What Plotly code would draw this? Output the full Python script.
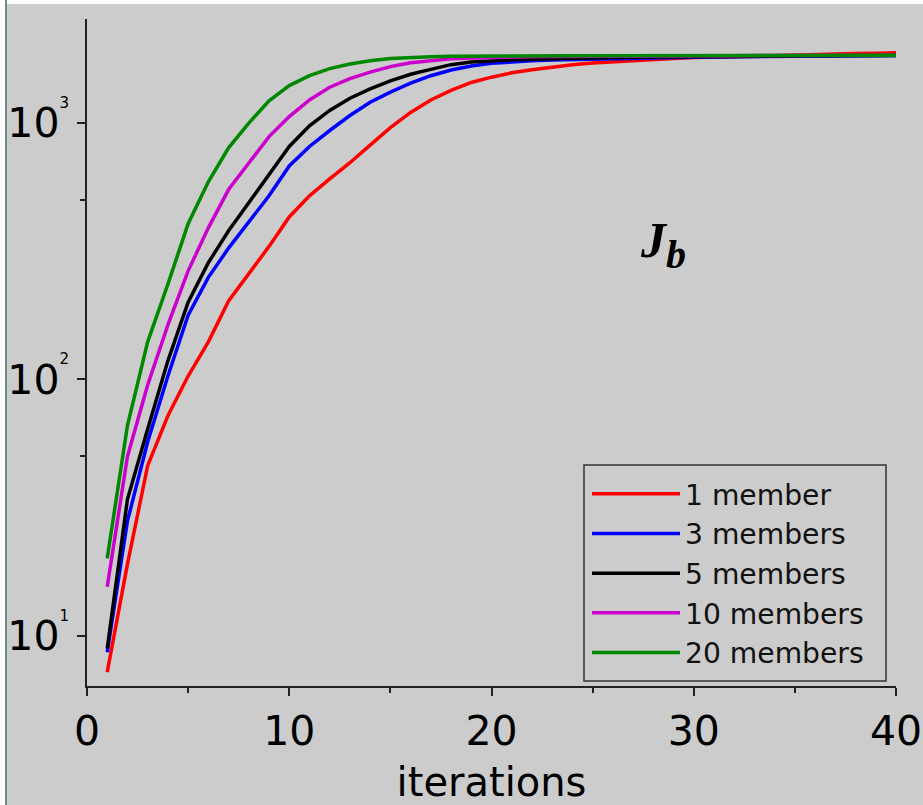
import plotly.graph_objects as go

iterations = list(range(1, 41))

red_1 = [7.2, 19, 46, 72, 103, 140, 202, 259, 330, 430,
         520, 605, 700, 820, 960, 1100, 1230, 1340, 1440, 1510,
         1570, 1615, 1655, 1690, 1715, 1735, 1755, 1770, 1785, 1800,
         1810, 1820, 1830, 1840, 1848, 1855, 1862, 1868, 1874, 1880]
blue_3 = [8.6, 28, 57, 103, 178, 250, 325, 410, 520, 680,
          810, 935, 1070, 1205, 1320, 1430, 1530, 1610, 1670, 1710,
          1735, 1750, 1760, 1768, 1775, 1782, 1788, 1794, 1800, 1805,
          1810, 1814, 1818, 1821, 1824, 1827, 1829, 1831, 1833, 1835]
black_5 = [8.9, 34, 64, 118, 200, 285, 380, 490, 630, 810,
           975, 1120, 1250, 1360, 1460, 1550, 1620, 1690, 1730, 1750,
           1765, 1775, 1785, 1792, 1798, 1803, 1807, 1811, 1814, 1817,
           1820, 1822, 1824, 1826, 1828, 1830, 1831, 1833, 1834, 1835]
magenta_10 = [15.5, 50, 95, 163, 265, 390, 550, 700, 885, 1060,
              1230, 1380, 1490, 1580, 1660, 1720, 1755, 1780, 1795, 1805,
              1810, 1814, 1817, 1820, 1822, 1824, 1826, 1828, 1829, 1830,
              1831, 1832, 1833, 1834, 1835, 1836, 1836, 1837, 1837, 1838]
green_20 = [20, 66, 140, 235, 405, 590, 800, 1000, 1220, 1400,
            1530, 1630, 1700, 1750, 1785, 1805, 1815, 1822, 1826, 1828,
            1829, 1830, 1831, 1832, 1832, 1833, 1833, 1834, 1834, 1835,
            1835, 1836, 1836, 1836, 1837, 1837, 1837, 1838, 1838, 1838]

series_names = ["1 member", "3 members", "5 members", "10 members", "20 members"]
series_values = [red_1, blue_3, black_5, magenta_10, green_20]
series_colors = ["#ff0000", "#0000ff", "#000000", "#cc00cc", "#008800"]

x_tickvals = [0, 10, 20, 30, 40]
x_ticktext = ["0", "10", "20", "30", "40"]
x_minor_vals = [5, 15, 25, 35]
y_tickvals = [10, 100, 1000]
y_exponents = ["1", "2", "3"]
y_minor_vals = [50, 500]

BG = "#cccccc"
AX = "#222222"
FONT = "DejaVu Sans"
PW, PH, L, T = 809, 667, 87, 19


def px(x):
    return (x - L) / PW


def py(y):
    return (T + PH - y) / PH


y_ticktext = ["10<sup><sup><span style='font-size:15px'>%s</span></sup></sup>" % e
              for e in y_exponents]

fig = go.Figure()
for name, vals, col in zip(series_names, series_values, series_colors):
    fig.add_trace(go.Scatter(x=iterations, y=vals, mode="lines", name=name,
                             line=dict(color=col, width=3.5)))

fig.update_layout(
    width=923, height=805,
    margin=dict(l=87, r=27, t=19, b=119, autoexpand=False),
    paper_bgcolor=BG, plot_bgcolor=BG,
    font=dict(family=FONT, color="#000000"),
    showlegend=True,
    legend=dict(x=px(587), y=py(678), xanchor="left", yanchor="bottom",
                bgcolor="rgba(0,0,0,0)", borderwidth=0,
                font=dict(family=FONT, size=28.2, color="#111111"),
                itemwidth=88),
    xaxis=dict(range=[0, 40], showgrid=False, zeroline=False, automargin=False,
               showline=True, linecolor=AX, linewidth=1.5,
               ticks="outside", ticklen=8, tickwidth=1.5, tickcolor=AX,
               tickvals=x_tickvals, ticktext=x_ticktext,
               tickfont=dict(family=FONT, size=41, color="#000000"),
               minor=dict(tickvals=x_minor_vals, ticks="outside", ticklen=5,
                          tickwidth=1.5, tickcolor=AX),
               title=dict(text="iterations", standoff=30,
                          font=dict(family=FONT, size=40, color="#000000"))),
    yaxis=dict(type="log", range=[0.803, 3.406], showgrid=False, zeroline=False,
               automargin=False,
               showline=True, linecolor=AX, linewidth=1.5,
               ticks="outside", ticklen=8, tickwidth=1.5, tickcolor=AX,
               tickvals=y_tickvals, ticktext=y_ticktext,
               tickfont=dict(family=FONT, size=41, color="#000000"),
               minor=dict(tickvals=y_minor_vals, ticks="outside", ticklen=5,
                          tickwidth=1.5, tickcolor=AX)),
    annotations=[dict(xref="paper", yref="paper", x=px(638), y=py(244),
                      xanchor="left", yanchor="middle", showarrow=False,
                      text="<b><i>J<sub><span style='font-size:40px'>b</span></sub></i></b>",
                      font=dict(family="Liberation Serif", size=50, color="#000000"))],
    shapes=[
        dict(type="rect", xref="paper", yref="paper", x0=px(584), x1=px(886),
             y0=py(681), y1=py(465), fillcolor="rgba(0,0,0,0)",
             line=dict(color="#333333", width=1.5), layer="above"),
        dict(type="rect", xref="paper", yref="paper", x0=px(-10), x1=px(5),
             y0=py(900), y1=py(-10), fillcolor="#ffffff", line=dict(width=0), layer="above"),
        dict(type="rect", xref="paper", yref="paper", x0=px(-10), x1=px(1000),
             y0=py(4), y1=py(-10), fillcolor="#ffffff", line=dict(width=0), layer="above"),
        dict(type="rect", xref="paper", yref="paper", x0=px(5), x1=px(7),
             y0=py(900), y1=py(-10), fillcolor="#6f8a8a", line=dict(width=0), layer="above"),
    ],
)

fig.write_html("out.html")
